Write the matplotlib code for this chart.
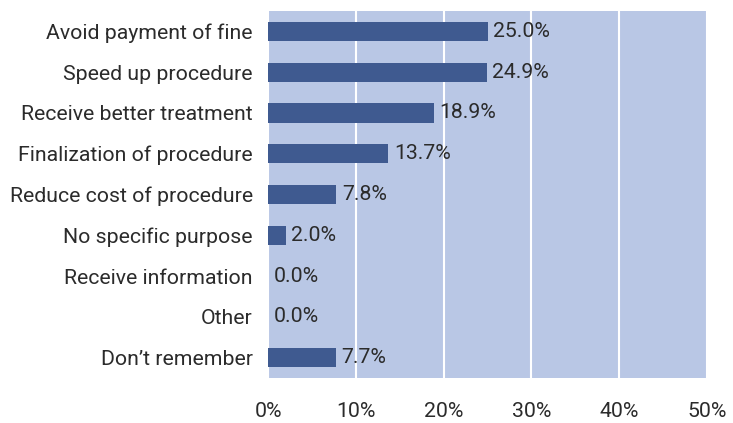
import matplotlib

matplotlib.use("Agg")
import matplotlib.pyplot as plt
import numpy as np

plt.rcParams["font.family"] = ["Roboto", "DejaVu Sans"]

categories = [
    "Avoid payment of fine",
    "Speed up procedure",
    "Receive better treatment",
    "Finalization of procedure",
    "Reduce cost of procedure",
    "No specific purpose",
    "Receive information",
    "Other",
    "Don\u2019t remember",
]
shares = [25.0, 24.9, 18.9, 13.7, 7.8, 2.0, 0.0, 0.0, 7.7]
xticks = [0, 10, 20, 30, 40, 50]

BAR = "#3f5a90"
BG = "#b9c7e5"
TXT = "#2b2b2b"
FS = 15.3

fig = plt.figure(figsize=(7.33, 4.23), dpi=100)
ax = fig.add_axes([268 / 733, 1 - 378 / 423, (707 - 268) / 733, (378 - 11) / 423])
ax.set_facecolor(BG)

y = np.arange(len(categories))
ax.barh(y, shares, height=0.47, color=BAR, zorder=3)
for yi, v in zip(y, shares):
    ax.annotate(f"{v:.1f}%", (v, yi), xytext=(4, 0), textcoords="offset points",
                va="center", ha="left", fontsize=FS, color=TXT, zorder=4)

ax.set_xlim(0, 50)
ax.set_ylim(len(categories) - 0.5, -0.5)
ax.set_yticks(y)
ax.set_yticklabels(categories, fontsize=FS, color=TXT)
ax.set_xticks(xticks)
ax.set_xticklabels([f"{t}%" for t in xticks], fontsize=FS, color=TXT)
ax.tick_params(axis="both", length=0)
ax.tick_params(axis="y", pad=11)
ax.tick_params(axis="x", pad=17)
ax.grid(axis="x", color="white", linewidth=1.5, zorder=1)
for s in ax.spines.values():
    s.set_visible(False)

fig.savefig("out.png", dpi=100)
